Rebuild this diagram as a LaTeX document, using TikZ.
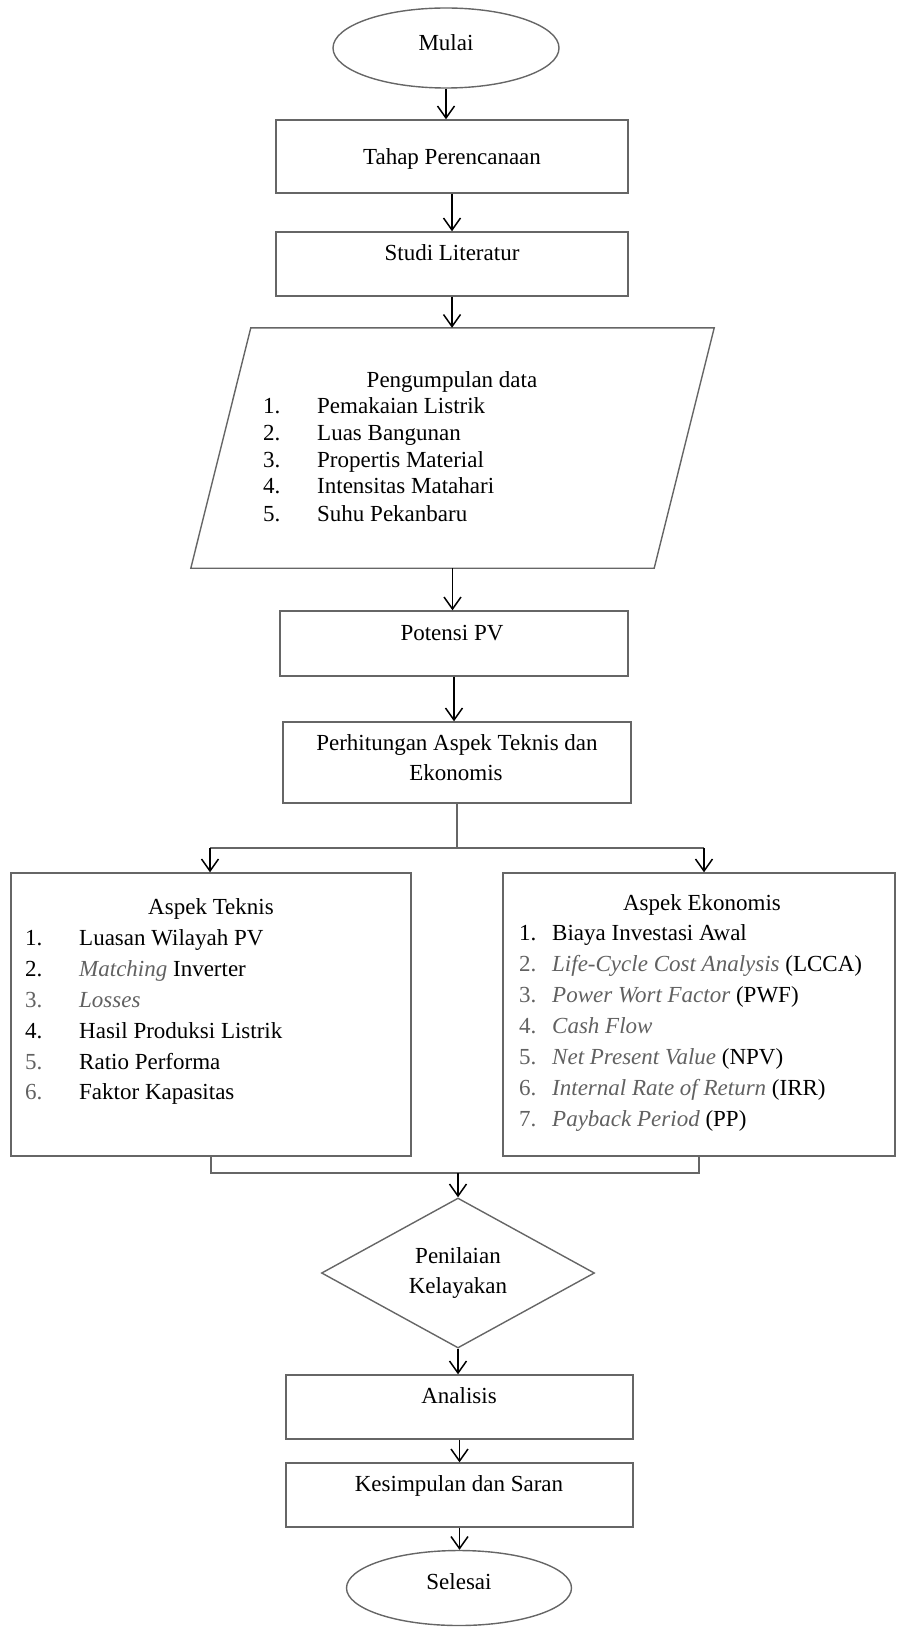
\documentclass[tikz,border=0pt]{standalone}
\usepackage{fontspec}
\setmainfont{Liberation Serif}
\usetikzlibrary{arrows.meta,shapes.geometric}
\definecolor{soft}{gray}{0.38}
\definecolor{edge}{gray}{0.40}
\begin{document}
\begin{tikzpicture}[x=1pt,y=-1pt,
  font=\fontsize{23}{27}\selectfont,
  box/.style={draw=edge, line width=1.4pt, rectangle, inner sep=0pt},
  term/.style={draw=edge, line width=1.4pt, ellipse, inner sep=0pt},
  decide/.style={draw=edge, line width=1.4pt, diamond, inner sep=0pt},
  arr/.style={draw=black, line width=1.5pt, -{Straight Barb[length=12pt,width=17pt,line width=1.5pt]}},
  ln/.style={draw=edge, line width=1.4pt},
  tx/.style={inner sep=0pt, text height=16pt, text depth=5pt},
  lt/.style={tx, anchor=west},
]
\useasboundingbox (0,0) rectangle (897,1629);

% ---- top column
\node[term, minimum width=226pt, minimum height=80pt] (mulai) at (446,48) {};
\node[tx] (tmulai) at (446,45) {Mulai};

\node[box, minimum width=352pt, minimum height=73pt] (tahap) at (452,156.5) {};
\node[tx] (ttahap) at (452,159) {Tahap Perencanaan};

\node[box, minimum width=352pt, minimum height=64pt] (studi) at (452,264) {};
\node[tx] (tstudi) at (452,255) {Studi Literatur};

\node[minimum width=463pt, minimum height=240pt, inner sep=0pt] (data) at (452.5,448) {};
\draw[ln] ([xshift=30pt]data.north west) -- ([xshift=30pt]data.north east)
  -- ([xshift=-30pt]data.south east) -- ([xshift=-30pt]data.south west) -- cycle;
\node[tx] (tdata) at (452,382) {Pengumpulan data};
\node[lt] (dn1) at (263,408) {1.};
\node[lt] (dt1) at (317,408) {Pemakaian Listrik};
\node[lt] (dn2) at (263,435) {2.};
\node[lt] (dt2) at (317,435) {Luas Bangunan};
\node[lt] (dn3) at (263,462) {3.};
\node[lt] (dt3) at (317,462) {Propertis Material};
\node[lt] (dn4) at (263,488) {4.};
\node[lt] (dt4) at (317,488) {Intensitas Matahari};
\node[lt] (dn5) at (263,516) {5.};
\node[lt] (dt5) at (317,516) {Suhu Pekanbaru};

\node[box, minimum width=348pt, minimum height=65pt] (pot) at (454,643.5) {};
\node[tx] (tpot) at (452,635) {Potensi PV};

\node[box, minimum width=348pt, minimum height=81pt] (perh) at (457,762.5) {};
\node[tx] (tperh1) at (457,745) {Perhitungan Aspek Teknis dan};
\node[tx] (tperh2) at (456,775) {Ekonomis};

% ---- two aspects
\node[box, minimum width=400pt, minimum height=283pt] (teknis) at (211,1014.5) {};
\node[tx] (ttek) at (211,909) {Aspek Teknis};
\node[lt] (kn1) at (25,940) {1.};
\node[lt] (kt1) at (79,940) {Luasan Wilayah PV};
\node[lt] (kn2) at (25,971) {2.};
\node[lt] (kt2) at (79,971) {\textcolor{soft}{\textit{Matching}} Inverter};
\node[lt, text=soft] (kn3) at (25,1002) {3.};
\node[lt] (kt3) at (79,1002) {\textcolor{soft}{\textit{Losses}}};
\node[lt] (kn4) at (25,1033) {4.};
\node[lt] (kt4) at (79,1033) {Hasil Produksi Listrik};
\node[lt, text=soft] (kn5) at (25,1064) {5.};
\node[lt] (kt5) at (79,1064) {Ratio Performa};
\node[lt, text=soft] (kn6) at (25,1094) {6.};
\node[lt] (kt6) at (79,1094) {Faktor Kapasitas};

\node[box, minimum width=392pt, minimum height=283pt] (ekon) at (699,1014.5) {};
\node[tx] (teko) at (702,905) {Aspek Ekonomis};
\node[lt] (en1) at (519,935) {1.};
\node[lt] (et1) at (552,935) {Biaya Investasi Awal};
\node[lt, text=soft] (en2) at (519,966) {2.};
\node[lt] (et2) at (552,966) {\textcolor{soft}{\textit{Life-Cycle Cost Analysis}} (LCCA)};
\node[lt, text=soft] (en3) at (519,997) {3.};
\node[lt] (et3) at (552,997) {\textcolor{soft}{\textit{Power Wort Factor}} (PWF)};
\node[lt, text=soft] (en4) at (519,1028) {4.};
\node[lt] (et4) at (552,1028) {\textcolor{soft}{\textit{Cash Flow}}};
\node[lt, text=soft] (en5) at (519,1059) {5.};
\node[lt] (et5) at (552,1059) {\textcolor{soft}{\textit{Net Present Value}} (NPV)};
\node[lt, text=soft] (en6) at (519,1090) {6.};
\node[lt] (et6) at (552,1090) {\textcolor{soft}{\textit{Internal Rate of Return}} (IRR)};
\node[lt, text=soft] (en7) at (519,1121) {7.};
\node[lt] (et7) at (552,1121) {\textcolor{soft}{\textit{Payback Period}} (PP)};

% ---- bottom column
\node[decide, minimum width=273pt, minimum height=150pt] (pen) at (458,1273) {};
\node[tx] (tpen1) at (458,1258) {Penilaian};
\node[tx] (tpen2) at (458,1288) {Kelayakan};

\node[box, minimum width=347pt, minimum height=64pt] (ana) at (459.5,1407) {};
\node[tx] (tana) at (459,1398) {Analisis};

\node[box, minimum width=347pt, minimum height=64pt] (kes) at (459.5,1495) {};
\node[tx] (tkes) at (459,1486) {Kesimpulan dan Saran};

\node[term, minimum width=225pt, minimum height=75pt] (sel) at (459,1588) {};
\node[tx] (tsel) at (459,1584) {Selesai};

% ---- connectors
\draw[arr] (mulai.south) -- (mulai.south |- tahap.north);
\draw[arr] (tahap.south) -- (tahap.south |- studi.north);
\draw[arr] (studi.south) -- (studi.south |- data.north);
\draw[arr] (data.south) -- (data.south |- pot.north);
\draw[arr] (pot.south) -- (pot.south |- perh.north);

\coordinate (split) at (457,848);
\coordinate (bl) at (210,848);
\coordinate (br) at (704,848);
\draw[ln] (perh.south) -- (split);
\draw[ln] (bl) -- (br);
\draw[arr] (bl) -- (bl |- teknis.north);
\draw[arr] (br) -- (br |- ekon.north);

\coordinate (join) at (458,1173);
\draw[ln] (teknis.south) -- (teknis.south |- join) -- (ekon.south |- join) -- (ekon.south);
\draw[arr] (join) -- (pen.north);
\draw[arr] (pen.south) -- (pen.south |- ana.north);
\draw[arr] (ana.south) -- (ana.south |- kes.north);
\draw[arr] (kes.south) -- (kes.south |- sel.north);
\end{tikzpicture}
\end{document}
